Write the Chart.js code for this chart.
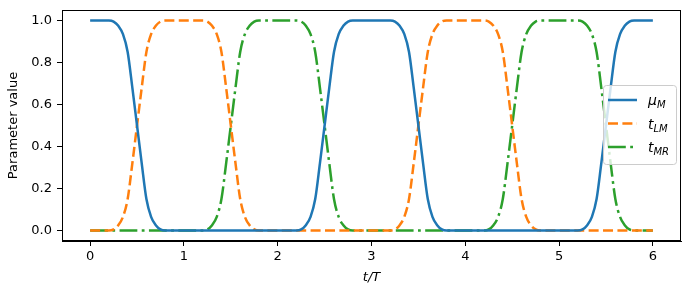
<!DOCTYPE html>
<html>
<head>
<meta charset="utf-8">
<script src="https://cdn.jsdelivr.net/npm/chart.js@4"></script>
<style>
  html, body { margin: 0; padding: 0; background: #fff; }
</style>
</head>
<body>
<canvas id="chart" width="691" height="295"></canvas>
<script>
// 曲線データ
const muT = [0,
  0.2, 0.25, 0.3, 0.35, 0.4, 0.45, 0.5, 0.55, 0.6, 0.65, 0.7, 0.75, 0.8,
  2.2, 2.25, 2.3, 2.35, 2.4, 2.45, 2.5, 2.55, 2.6, 2.65, 2.7, 2.75, 2.8,
  3.2, 3.25, 3.3, 3.35, 3.4, 3.45, 3.5, 3.55, 3.6, 3.65, 3.7, 3.75, 3.8,
  5.2, 5.25, 5.3, 5.35, 5.4, 5.45, 5.5, 5.55, 5.6, 5.65, 5.7, 5.75, 5.8,
  6];
const muM = [1,
  1, 0.995, 0.975, 0.935, 0.85, 0.68, 0.5, 0.32, 0.15, 0.065, 0.025, 0.005, 0,
  0, 0.005, 0.025, 0.065, 0.15, 0.32, 0.5, 0.68, 0.85, 0.935, 0.975, 0.995, 1,
  1, 0.995, 0.975, 0.935, 0.85, 0.68, 0.5, 0.32, 0.15, 0.065, 0.025, 0.005, 0,
  0, 0.005, 0.025, 0.065, 0.15, 0.32, 0.5, 0.68, 0.85, 0.935, 0.975, 0.995, 1,
  1];

const lmT = [0,
  0.2, 0.25, 0.3, 0.35, 0.4, 0.45, 0.5, 0.55, 0.6, 0.65, 0.7, 0.75, 0.8,
  1.2, 1.25, 1.3, 1.35, 1.4, 1.45, 1.5, 1.55, 1.6, 1.65, 1.7, 1.75, 1.8,
  3.2, 3.25, 3.3, 3.35, 3.4, 3.45, 3.5, 3.55, 3.6, 3.65, 3.7, 3.75, 3.8,
  4.2, 4.25, 4.3, 4.35, 4.4, 4.45, 4.5, 4.55, 4.6, 4.65, 4.7, 4.75, 4.8,
  6];
const tLM = [0,
  0, 0.005, 0.025, 0.065, 0.15, 0.32, 0.5, 0.68, 0.85, 0.935, 0.975, 0.995, 1,
  1, 0.995, 0.975, 0.935, 0.85, 0.68, 0.5, 0.32, 0.15, 0.065, 0.025, 0.005, 0,
  0, 0.005, 0.025, 0.065, 0.15, 0.32, 0.5, 0.68, 0.85, 0.935, 0.975, 0.995, 1,
  1, 0.995, 0.975, 0.935, 0.85, 0.68, 0.5, 0.32, 0.15, 0.065, 0.025, 0.005, 0,
  0];

const mrT = [0,
  1.2, 1.25, 1.3, 1.35, 1.4, 1.45, 1.5, 1.55, 1.6, 1.65, 1.7, 1.75, 1.8,
  2.2, 2.25, 2.3, 2.35, 2.4, 2.45, 2.5, 2.55, 2.6, 2.65, 2.7, 2.75, 2.8,
  4.2, 4.25, 4.3, 4.35, 4.4, 4.45, 4.5, 4.55, 4.6, 4.65, 4.7, 4.75, 4.8,
  5.2, 5.25, 5.3, 5.35, 5.4, 5.45, 5.5, 5.55, 5.6, 5.65, 5.7, 5.75, 5.8,
  6];
const tMR = [0,
  0, 0.005, 0.025, 0.065, 0.15, 0.32, 0.5, 0.68, 0.85, 0.935, 0.975, 0.995, 1,
  1, 0.995, 0.975, 0.935, 0.85, 0.68, 0.5, 0.32, 0.15, 0.065, 0.025, 0.005, 0,
  0, 0.005, 0.025, 0.065, 0.15, 0.32, 0.5, 0.68, 0.85, 0.935, 0.975, 0.995, 1,
  1, 0.995, 0.975, 0.935, 0.85, 0.68, 0.5, 0.32, 0.15, 0.065, 0.025, 0.005, 0,
  0];

// 目盛り
const xTicks = [0, 1, 2, 3, 4, 5, 6];
const yTicks = [0, 0.2, 0.4, 0.6, 0.8, 1.0];

// 凡例ラベル（本体＋下付き文字）
const legendMain = ['μ', 't', 't'];
const legendSub = ['M', 'LM', 'MR'];

const FONT = 'DejaVu Sans';
const colors = ['#1f77b4', '#ff7f0e', '#2ca02c'];
const dashes = [[], [10, 4.4], [17.8, 4.4, 2.8, 4.4]];

function toPoints(xs, ys) {
    return xs.map((x, i) => ({ x: x, y: ys[i] }));
}

// 枠線（四辺）
const framePlugin = {
    id: 'frame',
    afterDatasetsDraw(chart) {
        const a = chart.chartArea;
        const ctx = chart.ctx;
        ctx.save();
        ctx.strokeStyle = '#000';
        ctx.lineWidth = 1;
        ctx.setLineDash([]);
        ctx.strokeRect(Math.round(a.left) + 0.5, Math.round(a.top) + 0.5,
            Math.round(a.right - a.left) - 1, Math.round(a.bottom - a.top) - 1);
        ctx.restore();
    }
};

// matplotlib風の凡例
const legendPlugin = {
    id: 'mplLegend',
    afterDraw(chart) {
        const ctx = chart.ctx;
        ctx.save();
        ctx.beginPath();
        ctx.roundRect(603.5, 85.5, 73, 79, 3);
        ctx.fillStyle = 'rgba(255,255,255,0.8)';
        ctx.fill();
        ctx.strokeStyle = '#cccccc';
        ctx.lineWidth = 1;
        ctx.stroke();

        const rows = [100, 123.5, 147];
        rows.forEach((y, i) => {
            ctx.beginPath();
            ctx.setLineDash(dashes[i]);
            ctx.strokeStyle = colors[i];
            ctx.lineWidth = 2.5;
            ctx.moveTo(608, y);
            ctx.lineTo(637, y);
            ctx.stroke();
            ctx.setLineDash([]);

            ctx.fillStyle = '#000';
            ctx.textBaseline = 'alphabetic';
            ctx.textAlign = 'left';
            ctx.font = 'italic 14px "' + FONT + '"';
            const x0 = 648;
            ctx.fillText(legendMain[i], x0, y + 5);
            const w = ctx.measureText(legendMain[i]).width;
            ctx.font = 'italic 10px "' + FONT + '"';
            ctx.fillText(legendSub[i], x0 + w, y + 8);
        });
        ctx.restore();
    }
};

const tickFont = { family: FONT, size: 13 };

new Chart(document.getElementById('chart').getContext('2d'), {
    type: 'line',
    data: {
        datasets: [
            { label: 'μM', data: toPoints(muT, muM) },
            { label: 'tLM', data: toPoints(lmT, tLM) },
            { label: 'tMR', data: toPoints(mrT, tMR) }
        ].map((d, i) => Object.assign(d, {
            borderColor: colors[i],
            borderWidth: 2.5,
            borderDash: dashes[i],
            pointRadius: 0,
            fill: false,
            cubicInterpolationMode: 'monotone'
        }))
    },
    options: {
        responsive: false,
        animation: false,
        devicePixelRatio: 1,
        layout: { padding: { left: 0, top: 10, right: 10, bottom: 0 } },
        plugins: {
            legend: { display: false },
            tooltip: { enabled: false }
        },
        scales: {
            x: {
                type: 'linear',
                min: -0.3,
                max: 6.3,
                afterBuildTicks: s => { s.ticks = xTicks.map(v => ({ value: v })); },
                afterFit: s => { s.height = 54; s.paddingLeft = 0; s.paddingRight = 0; },
                ticks: { color: '#000', font: tickFont, padding: 3, maxRotation: 0,
                         callback: v => String(v) },
                grid: { drawOnChartArea: false, drawTicks: true, tickLength: 5, color: '#000' },
                border: { color: '#000', width: 1 },
                title: { display: true, text: 't/T', color: '#000',
                         font: { family: FONT, size: 13, style: 'italic' },
                         padding: { top: 0, bottom: 9.5 } }
            },
            y: {
                min: -0.05,
                max: 1.05,
                afterBuildTicks: s => { s.ticks = yTicks.map(v => ({ value: v })); },
                afterFit: s => { s.width = 62; s.paddingTop = 0; s.paddingBottom = 0; },
                ticks: { color: '#000', font: tickFont, padding: 5,
                         callback: v => Number(v).toFixed(1) },
                grid: { drawOnChartArea: false, drawTicks: true, tickLength: 5, color: '#000' },
                border: { color: '#000', width: 1 },
                title: { display: true, text: 'Parameter value', color: '#000',
                         font: tickFont, padding: { top: 6.2, bottom: 0 } }
            }
        }
    },
    plugins: [framePlugin, legendPlugin]
});
</script>
</body>
</html>
